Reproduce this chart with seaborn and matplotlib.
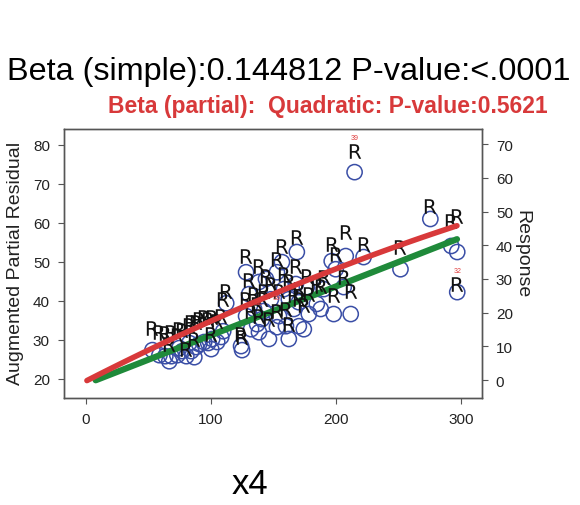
import numpy as np
import pandas as pd
import seaborn as sns
import matplotlib
matplotlib.use("Agg")
import matplotlib.pyplot as plt

x4 = [53.4, 59.0, 63.7, 68.5, 73.3, 77.3, 80.5, 84.5, 88.4, 90.8, 94.8, 98.0, 101.2, 105.2,
      108.4, 110.0, 112.4, 82.9, 74.9, 100.4, 86.9, 66.9,
      124.3, 125.1, 128.3, 128.3, 130.7, 132.3, 134.7, 137.1, 138.6, 138.6, 141.0, 142.6,
      144.2, 146.6, 148.2, 153.0, 153.0, 154.6, 157.0, 158.6, 160.2, 162.5, 162.5, 166.5,
      168.1, 168.9, 170.5, 170.5, 174.5, 176.9, 178.5, 184.9, 188.0,
      190.4, 196.8, 198.4, 200.0, 206.4, 208.0, 212.0, 215.1, 222.3, 251.8, 275.7, 292.4,
      297.2, 297.2]
response = [8.9, 7.4, 7.1, 7.1, 7.4, 8.6, 7.1, 8.6, 9.8, 10.7, 11.3, 11.0, 12.2, 11.3,
            12.8, 14.5, 22.8, 11.0, 9.5, 9.2, 6.8, 5.6,
            10.1, 8.9, 19.0, 32.0, 25.5, 15.1, 21.1, 16.6, 29.1, 14.2, 18.1, 20.5,
            30.0, 12.2, 24.0, 32.0, 15.7, 19.0, 35.0, 27.0, 16.0, 24.0, 12.2, 21.1,
            28.5, 38.0, 16.0, 23.1, 15.1, 27.6, 19.6, 22.6, 21.1,
            27.0, 35.3, 19.6, 32.9, 27.6, 36.8, 19.6, 61.7, 36.5, 32.9, 47.8, 39.8,
            38.0, 26.1]
partial = [33.1, 32.1, 31.8, 32.1, 31.3, 32.6, 27.7, 34.6, 34.6, 35.4, 35.9, 35.4, 35.9, 34.9,
           36.2, 40.5, 42.6, 33.8, 32.8, 31.5, 30.3, 29.0,
           31.5, 30.8, 40.5, 51.5, 45.4, 37.4, 41.8, 39.2, 49.0, 36.2, 40.5, 42.6,
           46.4, 35.4, 44.4, 50.8, 37.4, 42.6, 54.1, 46.9, 37.9, 45.1, 34.1, 41.5,
           49.0, 56.4, 40.5, 43.1, 39.0, 46.4, 41.8, 44.4, 43.8,
           46.2, 54.6, 41.5, 52.1, 46.2, 57.7, 42.6, 78.5, 54.6, 53.8, 64.4, 60.5,
           61.8, 44.4]
obs_id = list(range(1, len(x4) + 1))
obs_id[62] = 39
obs_id[68] = 32
flagged = [39, 32]

# fitted curves
beta_simple = 0.144812
simple_intercept = -1.2
simple_range = [8, 297]
partial_coef = [19.4, 0.1639, -9.97e-5]   # quadratic partial fit
partial_range = [1, 297]

df = pd.DataFrame({"x4": x4, "response": response, "partial": partial, "obs": obs_id})

xs_p = np.linspace(partial_range[0], partial_range[1], 100)
ys_p = partial_coef[0] + partial_coef[1] * xs_p + partial_coef[2] * xs_p ** 2
xs_s = np.linspace(simple_range[0], simple_range[1], 100)
ys_s = simple_intercept + beta_simple * xs_s

sns.set_style("ticks")
plt.rcParams['font.family'] = ['Liberation Sans', 'DejaVu Sans']

fig = plt.figure(figsize=(5.8, 5.06), dpi=100)
ax = fig.add_axes([0.110, 0.2115, 0.721, 0.5316])
ax2 = ax.twinx()
ax.set_zorder(ax2.get_zorder() + 1)
ax.patch.set_visible(False)

# response (right axis)
sns.scatterplot(data=df, x="x4", y="response", ax=ax2, marker="o", s=120,
                facecolor="none", edgecolor="#3a4ea6", linewidth=1.1)
sns.lineplot(x=xs_s, y=ys_s, ax=ax2, color="#1f8a3a", linewidth=4.5, sort=False)

# partial residuals (left axis)
sns.scatterplot(data=df, x="x4", y="partial", ax=ax, marker=r"$\mathrm{R}$", s=110,
                color="#111111", linewidth=0)
sns.lineplot(x=xs_p, y=ys_p, ax=ax, color="#d8393a", linewidth=4, sort=False)

for i in range(len(obs_id)):
    if obs_id[i] in flagged:
        ax.annotate(str(obs_id[i]), (x4[i], partial[i]), xytext=(0, 7),
                    textcoords="offset points", ha="center", va="bottom",
                    fontsize=5, color="#e04040")

ax.set_xlim(-17.5, 317)
ax.set_ylim(15.1, 84.1)
ax2.set_ylim(-5.3, 74.5)
ax.set_xticks([0, 100, 200, 300])
ax.set_yticks([20, 30, 40, 50, 60, 70, 80])
ax2.set_yticks([0, 10, 20, 30, 40, 50, 60, 70])
ax.set_xlabel("")
ax.set_ylabel("")
ax2.set_ylabel("")

for a in (ax, ax2):
    a.tick_params(direction="out", length=4, width=0.8, color="#555555",
                  labelsize=11, labelcolor="#222222", pad=6)
    for sp in a.spines.values():
        sp.set_visible(True)
        sp.set_color("#555555")
        sp.set_linewidth(1.0)

fig.text(0.498, 0.858, "Beta (simple):0.144812 P-value:<.0001", ha="center", va="center",
         fontsize=23.3, color="black")
fig.text(0.565, 0.79, "Beta (partial):  Quadratic: P-value:0.5621", ha="center", va="center",
         fontsize=16.5, fontweight="bold", color="#d8393a")
fig.text(0.431, 0.042, "x4", ha="center", va="center", fontsize=25, color="black")
fig.text(0.026, 0.239, "Augmented Partial Residual", rotation=90, ha="center", va="bottom",
         fontsize=14, color="#222222")
fig.text(0.900, 0.498, "Response", rotation=270, ha="center", va="center",
         fontsize=14, color="#222222")

fig.savefig("out.png", dpi=100)
